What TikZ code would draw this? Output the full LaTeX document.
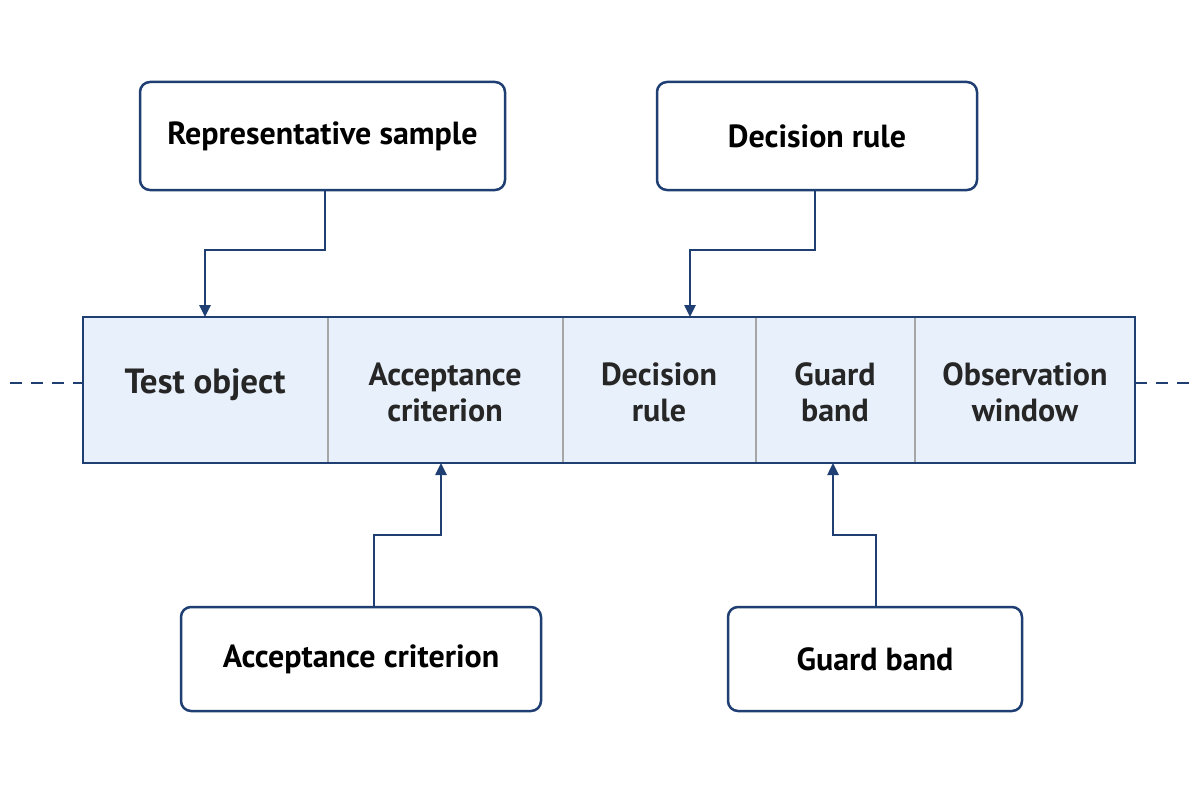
\documentclass[tikz,border=0pt]{standalone}
\usepackage{fontspec}
\setmainfont{PT Sans}
\usetikzlibrary{arrows.meta}
\definecolor{dblue}{HTML}{1F3F73}
\definecolor{lblue}{HTML}{E8F1FB}
\begin{document}
\begin{tikzpicture}[x=1pt,y=-1pt,
  box/.style={draw=dblue,line width=2.5pt,rounded corners=10pt,fill=white,font=\bfseries\fontsize{32}{36}\selectfont},
  cell/.style={font=\bfseries\fontsize{32}{36}\selectfont,align=center,text=black!85},
  conn/.style={draw=dblue,line width=2.5pt,-{Triangle[length=12pt,width=11pt]}},
  dashline/.style={draw=dblue,line width=2.5pt,dash pattern=on 12pt off 9pt}]
\useasboundingbox (0,0) rectangle (1200,800);
\fill[lblue] (83,317) rectangle (1135,463);
\foreach \x in {328,563,756,915} \draw[gray!70,line width=1.5pt] (\x,317) -- (\x,463);
\draw[dblue,line width=2.5pt] (83,317) rectangle (1135,463);
\coordinate (dl) at (10,383); \coordinate (dl2) at (83,383);
\coordinate (dr) at (1135,383); \coordinate (dr2) at (1195,383);
\draw[dashline] (dl) -- (dl2); \draw[dashline] (dr) -- (dr2);
\node[cell,font=\bfseries\fontsize{35}{38}\selectfont] (c1) at (205,385) {Test object};
\node[cell] (c2) at (445,392) {Acceptance\\criterion};
\node[cell] (c3) at (659,392) {Decision\\rule};
\node[cell] (c4) at (835,392) {Guard\\band};
\node[cell] (c5) at (1025,392) {Observation\\window};
\coordinate (t1) at (205,317); \coordinate (t3) at (690,317);
\coordinate (b2) at (441,463); \coordinate (b4) at (833,463);
\node[box,minimum width=365pt,minimum height=108pt] (rs) at (322.5,136) {Representative sample};
\node[box,minimum width=320pt,minimum height=108pt] (dr0) at (817,136) {Decision rule};
\node[box,minimum width=360pt,minimum height=104pt] (ac) at (361,659) {Acceptance criterion};
\node[box,minimum width=294pt,minimum height=104pt] (gb) at (875,659) {Guard band};
\draw[conn] (325,190) -- (325,250) -- (205,250) -- (t1);
\draw[conn] (815,190) -- (815,250) -- (690,250) -- (t3);
\draw[conn] (374,607) -- (374,535) -- (441,535) -- (b2);
\draw[conn] (876,607) -- (876,535) -- (833,535) -- (b4);
\end{tikzpicture}
\end{document}
